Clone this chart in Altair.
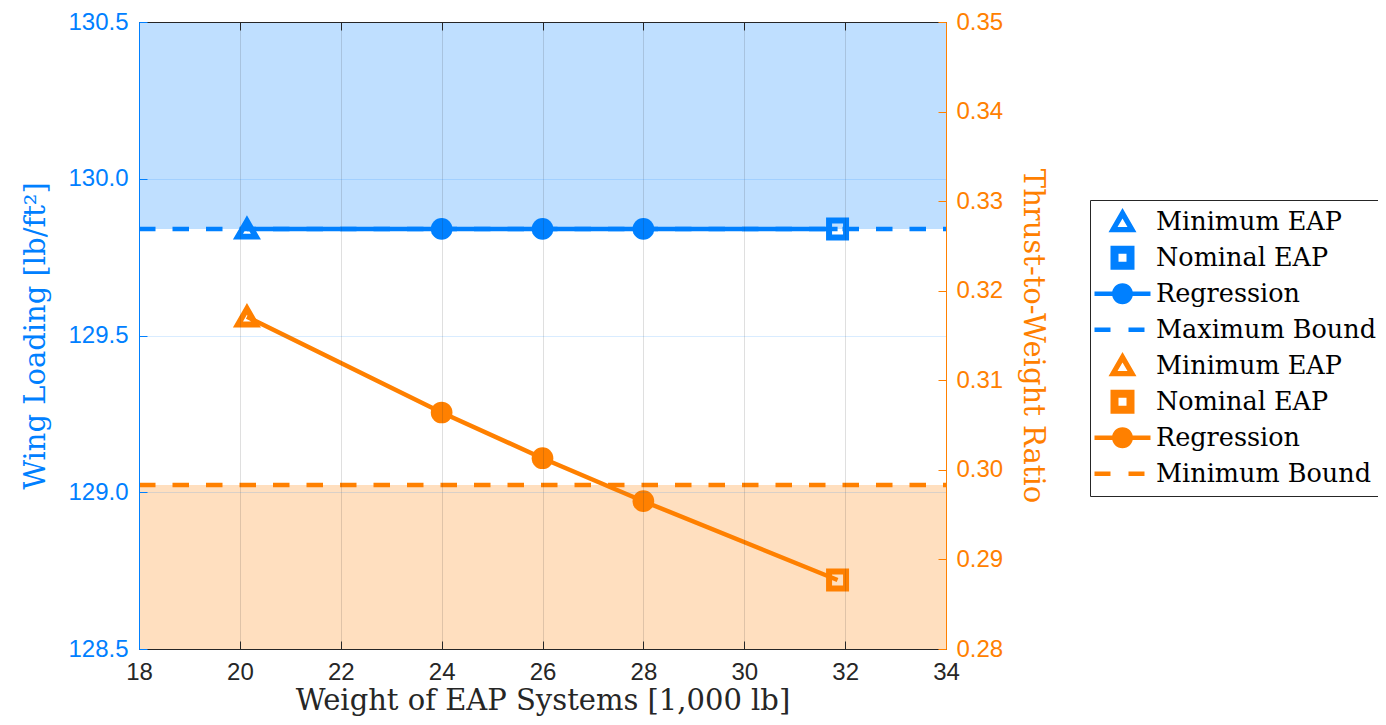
import json
import altair as alt
import pandas as pd

# ---------------- data ----------------
X_DOMAIN = [18, 34]
X_TICKS = [18, 20, 22, 24, 26, 28, 30, 32, 34]
WL_DOMAIN = [128.5, 130.5]
WL_TICKS = [128.5, 129.0, 129.5, 130.0, 130.5]
TW_DOMAIN = [0.28, 0.35]
TW_TICKS = [0.28, 0.29, 0.30, 0.31, 0.32, 0.33, 0.34, 0.35]

EAP_WEIGHT = [20.14, 24.0, 26.0, 28.0, 31.85]
WING_LOADING = [129.84, 129.84, 129.84, 129.84, 129.84]
TW_RATIO = [0.3171, 0.3064, 0.3013, 0.2965, 0.2877]
POINT_KIND = ["Minimum EAP", "Regression", "Regression", "Regression", "Nominal EAP"]

WL_MAX_BOUND = 129.84
TW_MIN_BOUND = 0.2983

LEGEND_KEYS = ["b_min", "b_nom", "b_reg", "b_max", "o_min", "o_nom", "o_reg", "o_minb"]
LEGEND_LABELS = ["Minimum EAP", "Nominal EAP", "Regression", "Maximum Bound",
                 "Minimum EAP", "Nominal EAP", "Regression", "Minimum Bound"]

X_TITLE = "Weight of EAP Systems [1,000 lb]"
WL_TITLE = "Wing Loading [lb/ft\u00b2]"
TW_TITLE = "Thrust-to-Weight Ratio"

# ---------------- style ----------------
BLUE = "#0080FF"
ORANGE = "#FF8000"
DARK = "#262626"
SERIF = "DejaVu Serif"
SANS = "Liberation Sans"
W, H = 807, 627
LW = 4.5
DASH = [16.5, 17]

# legend symbol paths (filled shapes), unit = sqrt(symbolSize)/2 px
LEG_SIZE = 57
U = LEG_SIZE / 2.0


def pt(x, y):
    return f"{x / U:.4f},{y / U:.4f}"


def rect_path(x0, x1, y0, y1):
    return f"M{pt(x0, y0)}L{pt(x1, y0)}L{pt(x1, y1)}L{pt(x0, y1)}Z"


def tri_path(w, h, inner_w, dy=0.0):
    side = ((w / 2) ** 2 + h ** 2) ** 0.5
    area = w * h / 2
    r = area / ((w + 2 * side) / 2)
    cy = h / 2 - r
    k = inner_w / w
    outer = f"M{pt(0, -h / 2 + dy)}L{pt(w / 2, h / 2 + dy)}L{pt(-w / 2, h / 2 + dy)}Z"
    ia = cy + (-h / 2 - cy) * k
    ib = cy + (h / 2 - cy) * k
    inner = f"M{pt(0, ia + dy)}L{pt(-w / 2 * k, ib + dy)}L{pt(w / 2 * k, ib + dy)}Z"
    return outer + inner


def square_path(outer, inner):
    o, i = outer / 2, inner / 2
    return (f"M{pt(-o, -o)}L{pt(o, -o)}L{pt(o, o)}L{pt(-o, o)}Z"
            f"M{pt(-i, -i)}L{pt(-i, i)}L{pt(i, i)}L{pt(i, -i)}Z")


def circle_line_path(length, thick, rad):
    line = rect_path(-length / 2, length / 2, -thick / 2, thick / 2)
    c = (f"M{pt(rad, 0)}A{rad / U:.4f},{rad / U:.4f} 0 1,1 {pt(-rad, 0)}"
         f"A{rad / U:.4f},{rad / U:.4f} 0 1,1 {pt(rad, 0)}Z")
    return line + c


def dash_path(thick):
    return (rect_path(-28, -12, -thick / 2, thick / 2)
            + rect_path(6, 22, -thick / 2, thick / 2))


TRI = tri_path(28, 24.2, 10, -1.5)
SQR = square_path(24, 8)
CIRC = circle_line_path(56, LW, 10.5)
DSH = dash_path(LW)
LEGEND_SHAPES = [TRI, SQR, CIRC, DSH, TRI, SQR, CIRC, DSH]
LEGEND_COLORS = [BLUE] * 4 + [ORANGE] * 4

# ---------------- tables ----------------
pts = pd.DataFrame({"w": EAP_WEIGHT, "wl": WING_LOADING, "tw": TW_RATIO, "kind": POINT_KIND})
blue_fill = pd.DataFrame({"x": [X_DOMAIN[0]], "x2": [X_DOMAIN[1]],
                          "y": [WL_MAX_BOUND], "y2": [WL_DOMAIN[1]]})
orange_fill = pd.DataFrame({"x": [X_DOMAIN[0]], "x2": [X_DOMAIN[1]],
                            "y": [TW_DOMAIN[0]], "y2": [TW_MIN_BOUND]})
corners_wl = pd.DataFrame({"x": X_DOMAIN, "y": WL_DOMAIN})
corners_tw = pd.DataFrame({"x": X_DOMAIN, "y": TW_DOMAIN})
legend_df = pd.DataFrame({"key": LEGEND_KEYS})

XS = alt.Scale(domain=X_DOMAIN, nice=False, zero=False)
YS_WL = alt.Scale(domain=WL_DOMAIN, nice=False, zero=False)
YS_TW = alt.Scale(domain=TW_DOMAIN, nice=False, zero=False)

common_lbl = dict(labelFont=SANS, labelFontSize=24, labelFlush=False, labelOverlap=False,
                  titleFont=SERIF, titleFontSize=29, titleFontWeight="normal", zindex=1)

AX_BOTTOM = alt.Axis(orient="bottom", values=X_TICKS, format="d", labelColor=DARK,
                     labelPadding=11, ticks=False, domain=True, domainColor=DARK,
                     domainWidth=1, grid=True, gridColor=DARK, gridOpacity=0.15, gridWidth=1,
                     title=X_TITLE, titleColor=DARK, titlePadding=2, **common_lbl)
AX_LEFT = alt.Axis(orient="left", values=WL_TICKS, format=".1f", labelColor=BLUE,
                   labelPadding=11, ticks=False, domain=True, domainColor=BLUE,
                   domainWidth=1, grid=True, gridColor=BLUE, gridOpacity=0.15, gridWidth=1,
                   title=WL_TITLE, titleColor=BLUE, titlePadding=17, **common_lbl)
AX_TOP = alt.Axis(orient="top", values=X_TICKS, labels=False, ticks=False,
                  domain=True, domainColor=DARK, domainWidth=1, grid=False, title=None, zindex=1)
AX_RIGHT = alt.Axis(orient="right", values=TW_TICKS, format=".2f", labelColor=ORANGE,
                    labelPadding=10, ticks=False, domain=True, domainColor=ORANGE,
                    domainWidth=1, grid=False, title=TW_TITLE, titleColor=ORANGE,
                    titlePadding=15, **common_lbl)


def tick_axis(orient, values, color):
    return alt.Axis(orient=orient, values=values, offset=-8, ticks=True, tickSize=8,
                    tickColor=color, tickWidth=1, labels=False, domain=False, grid=False,
                    title=None, zindex=1)


def group(fill_df, yfield, yscale, color, bound):
    fill = alt.Chart(fill_df).mark_rect(color=color, opacity=0.25).encode(
        x=alt.X("x:Q", scale=XS, axis=None), x2="x2",
        y=alt.Y("y:Q", scale=yscale, axis=None), y2="y2")
    rule_df = pd.DataFrame({"x": [X_DOMAIN[0]], "x2": [X_DOMAIN[1]], "y": [bound]})
    rule = alt.Chart(rule_df).mark_rule(color=color, strokeWidth=LW, strokeDash=DASH).encode(
        x=alt.X("x:Q", scale=XS, axis=None), x2="x2",
        y=alt.Y("y:Q", scale=yscale, axis=None))
    base = alt.Chart(pts).encode(x=alt.X("w:Q", scale=XS, axis=None),
                                 y=alt.Y(f"{yfield}:Q", scale=yscale, axis=None))
    line = base.mark_line(color=color, strokeWidth=LW)
    tri = base.transform_filter(alt.datum.kind == "Minimum EAP").mark_point(
        shape="triangle-up", filled=False, size=324, strokeWidth=5.8, color=color,
        opacity=1, strokeJoin="miter")
    circ = base.transform_filter(alt.datum.kind == "Regression").mark_point(
        shape="circle", filled=True, size=470, color=color, opacity=1, strokeWidth=0)
    sq = base.transform_filter(alt.datum.kind == "Nominal EAP").mark_point(
        shape="square", filled=False, size=289, strokeWidth=6, color=color, opacity=1,
        strokeJoin="miter")
    return alt.layer(fill, rule, line, tri, circ, sq)


blue = group(blue_fill, "wl", YS_WL, BLUE, WL_MAX_BOUND)
orange = group(orange_fill, "tw", YS_TW, ORANGE, TW_MIN_BOUND)


def guide_layer(df, yscale, xaxis, yaxis):
    return alt.Chart(df).mark_point(opacity=0).encode(
        x=alt.X("x:Q", scale=XS, axis=xaxis),
        y=alt.Y("y:Q", scale=yscale, axis=yaxis))


axes_a = guide_layer(corners_wl, YS_WL, AX_BOTTOM, AX_LEFT)
axes_b = guide_layer(corners_tw, YS_TW, AX_TOP, AX_RIGHT)
ticks_a = guide_layer(corners_wl, YS_WL, tick_axis("bottom", X_TICKS, DARK),
                      tick_axis("left", WL_TICKS, BLUE))
ticks_b = guide_layer(corners_tw, YS_TW, tick_axis("top", X_TICKS, DARK),
                      tick_axis("right", TW_TICKS, ORANGE))

label_expr = f"{json.dumps(LEGEND_LABELS)}[indexof({json.dumps(LEGEND_KEYS)}, datum.value)]"
LEG = dict(orient="none", legendX=951, legendY=178, title=None, labelExpr=label_expr,
           labelFont=SERIF, labelFontSize=25.5, labelColor="#000000", labelLimit=400,
           labelOffset=5, symbolSize=LEG_SIZE * LEG_SIZE, symbolStrokeWidth=0,
           symbolOpacity=1, symbolOffset=0, clipHeight=35.4, rowPadding=0, padding=4,
           strokeColor=DARK, fillColor="#ffffff", cornerRadius=0)

legend_layer = alt.Chart(legend_df).mark_point(filled=True, opacity=0).encode(
    color=alt.Color("key:N", scale=alt.Scale(domain=LEGEND_KEYS, range=LEGEND_COLORS),
                    legend=alt.Legend(**LEG)),
    shape=alt.Shape("key:N", scale=alt.Scale(domain=LEGEND_KEYS, range=LEGEND_SHAPES),
                    legend=alt.Legend(**LEG)))

chart = alt.layer(blue, orange, axes_a, axes_b, ticks_a, ticks_b, legend_layer).resolve_scale(
    y="independent").resolve_axis(x="independent", y="independent").properties(
    width=W, height=H, autosize=alt.AutoSizeParams(type="none"),
    padding={"left": 131, "top": 14, "right": 432, "bottom": 68},
    background="#ffffff").configure_view(stroke="transparent")

chart.save("out.html", embed_options={"renderer": "svg", "actions": False})
